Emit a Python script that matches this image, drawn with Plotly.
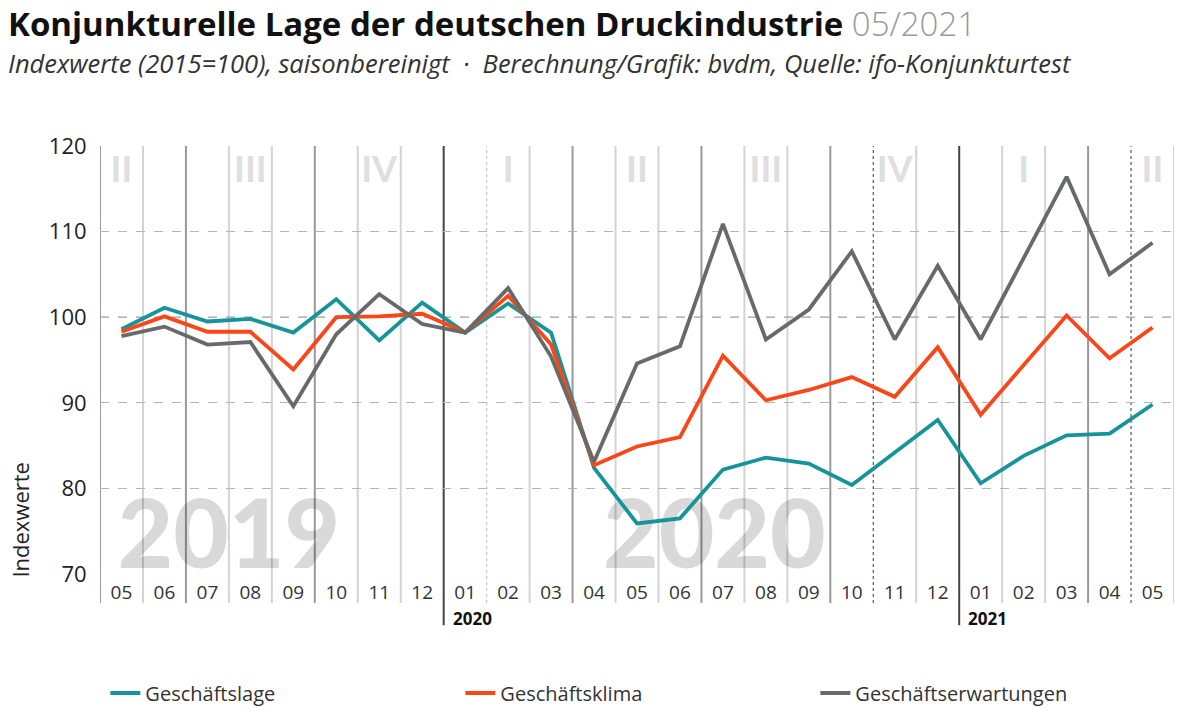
import plotly.graph_objects as go

# ── data ──────────────────────────────────────────
months = ["05", "06", "07", "08", "09", "10", "11", "12",
          "01", "02", "03", "04", "05", "06", "07", "08", "09", "10", "11", "12",
          "01", "02", "03", "04", "05"]
years = [2019] * 8 + [2020] * 12 + [2021] * 5

geschaeftslage = [98.6, 101.1, 99.5, 99.8, 98.2, 102.1, 97.3, 101.7,
                  98.2, 101.6, 98.2, 82.4, 75.9, 76.5, 82.2, 83.6, 82.9, 80.4, 84.2, 88.0,
                  80.6, 83.8, 86.2, 86.4, 89.8]
geschaeftsklima = [98.3, 100.1, 98.3, 98.3, 93.9, 100.0, 100.1, 100.4,
                   98.2, 102.5, 96.8, 82.7, 84.9, 86.0, 95.5, 90.3, 91.5, 93.0, 90.7, 96.5,
                   88.6, 94.4, 100.2, 95.2, 98.8]
geschaeftserwartungen = [97.8, 98.9, 96.8, 97.1, 89.6, 98.0, 102.7, 99.2,
                         98.2, 103.4, 95.4, 83.1, 94.6, 96.6, 110.9, 97.4, 100.9, 107.7, 97.4, 106.0,
                         97.4, 106.8, 116.4, 105.0, 108.7]

series_names = ["Geschäftslage", "Geschäftsklima", "Geschäftserwartungen"]
series_colors = ["#17939a", "#fb4617", "#67696b"]

quarter_of_mid_month = {"02": "I", "05": "II", "08": "III", "11": "IV"}
dashed_after = {"2020-02": "#c8c8c8", "2020-11": "#555555", "2021-05": "#555555"}

FONT = "Open Sans"
WM_FONT = "Lato"
x = list(range(len(months)))

fig = go.Figure()

# big year watermarks and quarter numerals (behind the lines)
wm_offset = {2019: 2.5, 2020: 5.8}
wm_x, wm_text = [], []
for yr in sorted(set(years)):
    if yr in wm_offset:
        wm_x.append(years.index(yr) + wm_offset[yr])
        wm_text.append(str(yr))
fig.add_trace(go.Scatter(x=wm_x, y=[73.5] * len(wm_x), text=wm_text, mode="text",
                         textfont=dict(family=WM_FONT, size=96, color="rgba(0,0,0,0.15)", weight=900),
                         showlegend=False, hoverinfo="skip"))
q_x = [i for i, m in enumerate(months) if m in quarter_of_mid_month]
fig.add_trace(go.Scatter(x=q_x, y=[116.8] * len(q_x),
                         text=[quarter_of_mid_month[months[i]] for i in q_x], mode="text",
                         textfont=dict(family=WM_FONT, size=36, color="rgba(0,0,0,0.13)", weight=900),
                         showlegend=False, hoverinfo="skip"))

for name, vals, col in zip(series_names, [geschaeftslage, geschaeftsklima, geschaeftserwartungen],
                           series_colors):
    fig.add_trace(go.Scatter(x=x, y=vals, name=name, mode="lines",
                             line=dict(color=col, width=3.8)))

# vertical separators
shapes = []
for i in range(len(months) + 1):
    key = f"{years[i]}-{months[i]}" if i < len(months) else ""
    xpos = i - 0.5
    style = dict(color="#d3d3d3", width=2)
    bottom = -0.068
    if i < len(months) and months[i] == "01":
        style = dict(color="#444444", width=2)
        bottom = -0.12
    elif i == 0 or (i < len(months) and months[i] in ("04", "07", "10")):
        style = dict(color="#999999", width=2)
    if key in dashed_after:
        style = dict(color=dashed_after[key], width=1.2, dash="dot")
    shapes.append(dict(type="line", xref="x", yref="paper", x0=xpos, x1=xpos, y0=bottom, y1=1,
                       line=style, layer="below"))
shapes.append(dict(type="line", xref="paper", yref="y", x0=0, x1=1, y0=100, y1=100,
                   line=dict(color="#666666", width=1, dash="dash"), layer="below"))

annotations = []
for i, m in enumerate(months):
    if m == "01":
        annotations.append(dict(x=i - 0.5, y=-0.103, xref="x", yref="paper", text=f"<b>{years[i]}</b>",
                                showarrow=False, xanchor="left", yanchor="middle", xshift=7,
                                font=dict(family=FONT, size=17, color="#111111")))
annotations.append(dict(x=-0.074, y=0.126, xref="paper", yref="paper", text="Indexwerte",
                        textangle=-90, showarrow=False, xanchor="center", yanchor="middle",
                        font=dict(family=FONT, size=22, color="#222222")))
annotations.append(dict(x=-0.0875, y=1.286, xref="paper", yref="paper", xanchor="left", yanchor="middle",
                        showarrow=False,
                        text="<b>Konjunkturelle Lage der deutschen Druckindustrie</b> "
                             "<span style='color:#9a9a9a;font-weight:300'>05/2021</span>",
                        font=dict(family=FONT, size=33, color="#111111")))
annotations.append(dict(x=-0.0875, y=1.194, xref="paper", yref="paper", xanchor="left", yanchor="middle",
                        showarrow=False,
                        text="<i>Indexwerte (2015=100), saisonbereinigt  ·  "
                             "Berechnung/Grafik: bvdm, Quelle: ifo-Konjunkturtest</i>",
                        font=dict(family=FONT, size=25.5, color="#333333")))

fig.update_layout(
    width=1200, height=712,
    margin=dict(l=91.5, r=33.5, t=138, b=146, autoexpand=False),
    paper_bgcolor="white", plot_bgcolor="white",
    font=dict(family=FONT, color="#222222"),
    shapes=shapes,
    annotations=annotations,
    showlegend=True,
    legend=dict(orientation="h", x=0.005, xanchor="left", y=-0.278, yanchor="middle",
                entrywidth=310, entrywidthmode="pixels",
                font=dict(family=FONT, size=20, color="#333333")),
    hovermode=False,
)
fig.update_xaxes(range=[-0.5, len(months) - 0.5], tickvals=x, ticktext=months,
                 showgrid=False, zeroline=False, showline=False,
                 ticks="outside", ticklen=1, tickcolor="rgba(0,0,0,0)",
                 tickfont=dict(family=FONT, size=19, color="#333333"))
fig.update_yaxes(range=[70, 120], tickvals=[70, 80, 90, 100, 110, 120],
                 showgrid=True, gridcolor="#b5b5b5", gridwidth=1, griddash="dash",
                 zeroline=False, showline=False,
                 ticks="outside", ticklen=8, tickcolor="rgba(0,0,0,0)",
                 tickfont=dict(family=FONT, size=22, color="#222222"))

fig.write_html("out.html")
